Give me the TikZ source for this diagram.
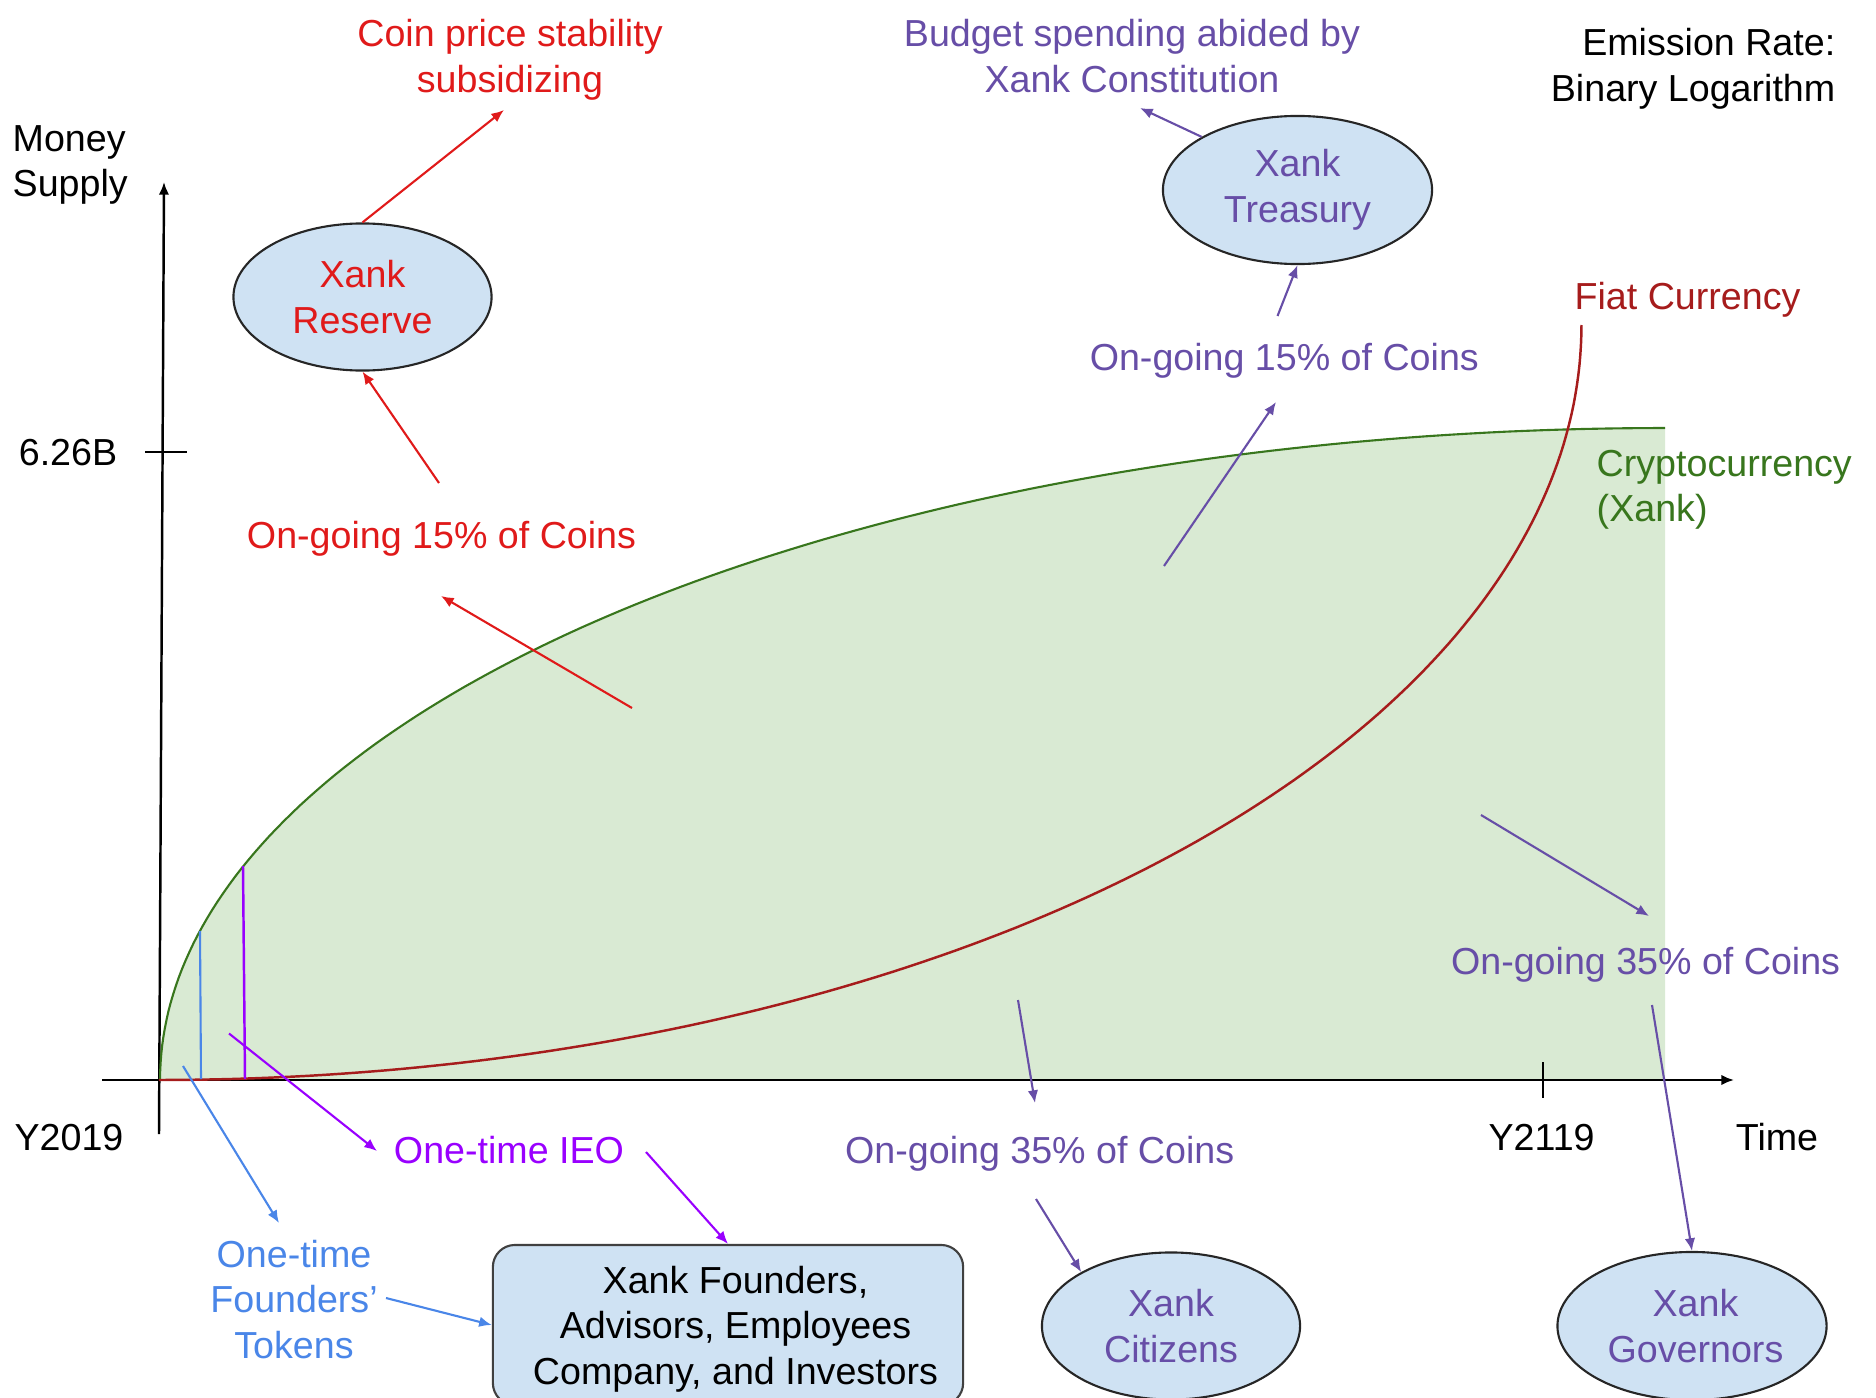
\documentclass[tikz,border=0pt]{standalone}
\usepackage{fontspec}
\setmainfont{Liberation Sans}
\usetikzlibrary{arrows.meta,shapes.geometric}
\definecolor{cred}{HTML}{E01A1A}
\definecolor{cfiat}{HTML}{A61C1C}
\definecolor{cpurple}{HTML}{674EA7}
\definecolor{cmag}{HTML}{9900FF}
\definecolor{cblue}{HTML}{4A86E8}
\definecolor{cgreen}{HTML}{38761D}
\definecolor{cfill}{HTML}{D9EAD3}
\definecolor{cnode}{HTML}{CFE2F3}
\begin{document}
\begin{tikzpicture}[x=0.01cm,y=-0.01cm,
  every node/.style={font=\fontsize{10.7}{12.95}\selectfont, inner sep=0pt},
  lab/.style={execute at begin node=\strut, execute at end node=\strut},
  oval/.style={ellipse, draw=black!85, line width=0.6pt, fill=cnode, minimum width=2.58cm, minimum height=1.47cm, align=center},
  arr/.style={-{Latex[length=3.6pt,width=3pt]}, line width=0.6pt},
  axisline/.style={line width=0.7pt, -{Latex[length=3.6pt,width=3pt]}},
]
\useasboundingbox (0,0) rectangle (1876,1397);

% cryptocurrency area
\fill[cfill] plot[domain=0:90,samples=120,variable=\t] ({1665-1505*cos(\t)},{1080-652*sin(\t)}) -- (1665,1080) -- cycle;

% axes
\draw[axisline] (159,1134) -- (164,182);
\draw[axisline] (102,1080) -- (1734,1080);
\draw[line width=0.7pt] (145,452) -- (187,452);
\draw[line width=0.7pt] (1543,1062) -- (1543,1098);

% curves
\draw[cgreen, line width=0.6pt] plot[domain=0:90,samples=120,variable=\t] ({1665-1505*cos(\t)},{1080-652*sin(\t)});
\draw[cfiat, line width=0.7pt] plot[domain=0:90,samples=120,variable=\t] ({159+1422.5*sin(\t)},{325+755*cos(\t)});
\draw[cblue, line width=0.6pt] (200,931) -- (201,1079);
\draw[cmag, line width=0.7pt] (243,866) -- (245,1079);

% nodes
\node[oval, text=cred] (res) at (362.5,297) {Xank\\Reserve};
\node[oval, text=cpurple, minimum width=2.69cm, minimum height=1.48cm] (tre) at (1297.5,190) {Xank\\Treasury};
\node[oval, text=cpurple] (cit) at (1171,1326) {Xank\\Citizens};
\node[oval, text=cpurple, minimum width=2.69cm, minimum height=1.48cm] (gov) at (1692,1326) {\hspace*{0.07cm}Xank\\\hspace*{0.07cm}Governors};
\node[draw=black!75, fill=cnode, rounded corners=0.22cm, line width=0.6pt, minimum width=4.7cm, minimum height=1.6cm, align=center] (box) at (728,1325)
  {\hspace*{0.15cm}\rule{0pt}{10.1pt}Xank Founders,\\\hspace*{0.15cm}Advisors, Employees\\\hspace*{0.15cm}Company, and Investors};

% labels
\node[lab, text=cred, align=center] (coin) at (510,62.5) {Coin price stability\\subsidizing};
\node[lab, text=cpurple, align=center] (budget) at (1132,62.5) {Budget spending abided by\\Xank Constitution};
\node[lab, anchor=east, align=right] (emis) at (1836,71.9) {Emission Rate:\\Binary Logarithm};
\node[lab, anchor=west, align=left] (money) at (12,168) {Money\\Supply};
\node[lab] (b626) at (68,456.6) {6.26B};
\node[lab] (y2019) at (69,1141) {Y2019};
\node[lab] (y2119) at (1541.6,1141) {Y2119};
\node[lab] (time) at (1777,1141) {Time};
\node[lab, text=cfiat] (fiat) at (1687.5,299.9) {Fiat Currency};
\node[lab, text=cgreen, anchor=west, align=left] (crypto) at (1596,492.6) {Cryptocurrency\\(Xank)};
\node[lab, text=cred] (og1) at (441.5,539.2) {On-going 15\% of Coins};
\node[lab, text=cpurple] (og2) at (1284.3,360.9) {On-going 15\% of Coins};
\node[lab, text=cpurple] (og3) at (1039.7,1154.1) {On-going 35\% of Coins};
\node[lab, text=cpurple] (og4) at (1645.6,965.1) {On-going 35\% of Coins};
\node[lab, text=cmag] (ieo) at (509,1154.1) {One-time IEO};
\node[lab, text=cblue, align=center] (tok) at (294,1306) {One-time\\Founders’\\Tokens};

% free arrow ends
\coordinate (r1s) at (632,708);   \coordinate (r1e) at (441,596);
\coordinate (r2s) at (439,483);
\coordinate (r3e) at (504,110);
\coordinate (p1s) at (1164,566);  \coordinate (p1e) at (1276,402);
\coordinate (p2s) at (1277.5,316);
\coordinate (p3e) at (1140,108);
\coordinate (c1s) at (1036,1199);
\coordinate (c2s) at (1018,1000); \coordinate (c2e) at (1035,1103);
\coordinate (g1s) at (1481,815);  \coordinate (g1e) at (1649,916);
\coordinate (g2s) at (1652,1005);
\coordinate (m1s) at (229,1033.5); \coordinate (m1e) at (377,1151);
\coordinate (m2s) at (646,1152);
\coordinate (b1s) at (183,1066);  \coordinate (b1e) at (279,1223);
\coordinate (b2s) at (386,1298);

% arrows
\draw[arr, cred] (r1s) -- (r1e);
\draw[arr, cred] (r2s) -- (res.south);
\draw[arr, cred] (res.north) -- (r3e);
\draw[arr, cpurple] (p1s) -- (p1e);
\draw[arr, cpurple] (p2s) -- (tre.south);
\draw[arr, cpurple] (tre.151) -- (p3e);
\draw[arr, cpurple] (c1s) -- (cit.149);
\draw[arr, cpurple] (c2s) -- (c2e);
\draw[arr, cpurple] (g1s) -- (g1e);
\draw[arr, cpurple] (g2s) -- (gov.north);
\draw[arr, cmag] (m1s) -- (m1e);
\draw[arr, cmag] (m2s) -- (box.north);
\draw[arr, cblue] (b1s) -- (b1e);
\draw[arr, cblue] (b2s) -- (box.west);
\end{tikzpicture}
\end{document}
